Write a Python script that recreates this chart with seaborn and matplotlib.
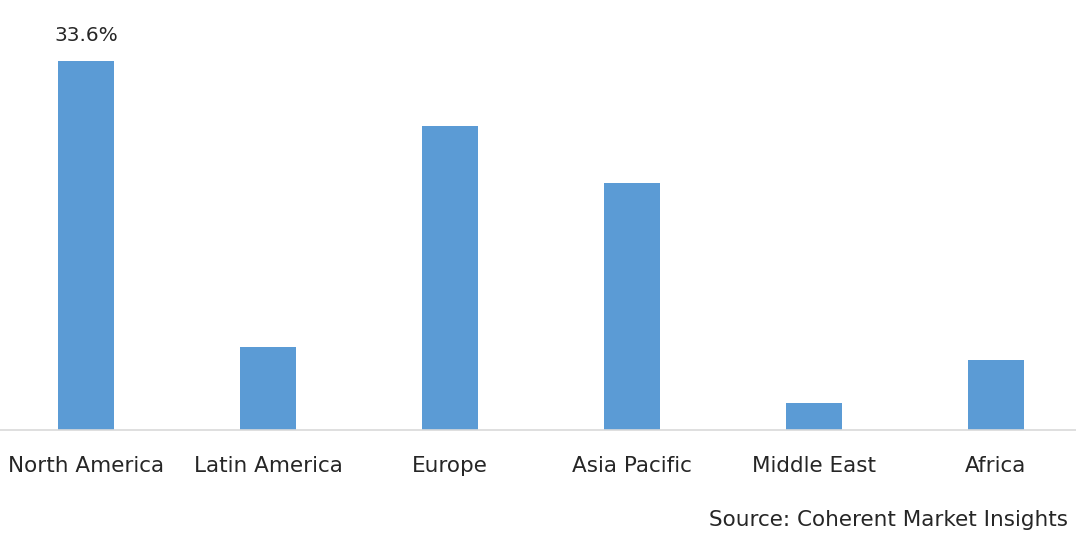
import pandas as pd
import seaborn as sns
from matplotlib import pyplot as plt

# Regional market share (%)
regions = ["North America", "Latin America", "Europe", "Asia Pacific", "Middle East", "Africa"]
share = [33.6, 7.6, 27.7, 22.5, 2.5, 6.4]

df = pd.DataFrame({"region": regions, "share": share})

sns.set_style("white")
plt.rcParams["font.family"] = ["DejaVu Sans"]

fig = plt.figure(figsize=(10.76, 5.35), dpi=100)
ax = fig.add_axes([0, 105 / 535, 1, 430 / 535])

sns.barplot(data=df, x="region", y="share", color="#5B9BD5", saturation=1,
            width=0.31, linewidth=0, ax=ax)

ax.set_xlim(-86 / 182, 5 + 80 / 182)
ax.set_ylim(0, 430 / (369 / 33.6))

for s in ["top", "right", "left"]:
    ax.spines[s].set_visible(False)
ax.spines["bottom"].set_color("#D9D9D9")
ax.spines["bottom"].set_linewidth(1.2)

ax.set_yticks([])
ax.set_xlabel("")
ax.set_ylabel("")
ax.tick_params(axis="x", length=0, pad=19, labelsize=15.5, labelcolor="#262626")

# only the top bar carries a value label
ax.text(0, share[0] + 1.5, f"{share[0]}%", ha="center", va="bottom",
        fontsize=14.5, color="#262626")

fig.text(1068 / 1076, 1 - 520 / 535, "Source: Coherent Market Insights",
         ha="right", va="center", fontsize=15.5, color="#262626")

plt.savefig("out.png", dpi=100)
